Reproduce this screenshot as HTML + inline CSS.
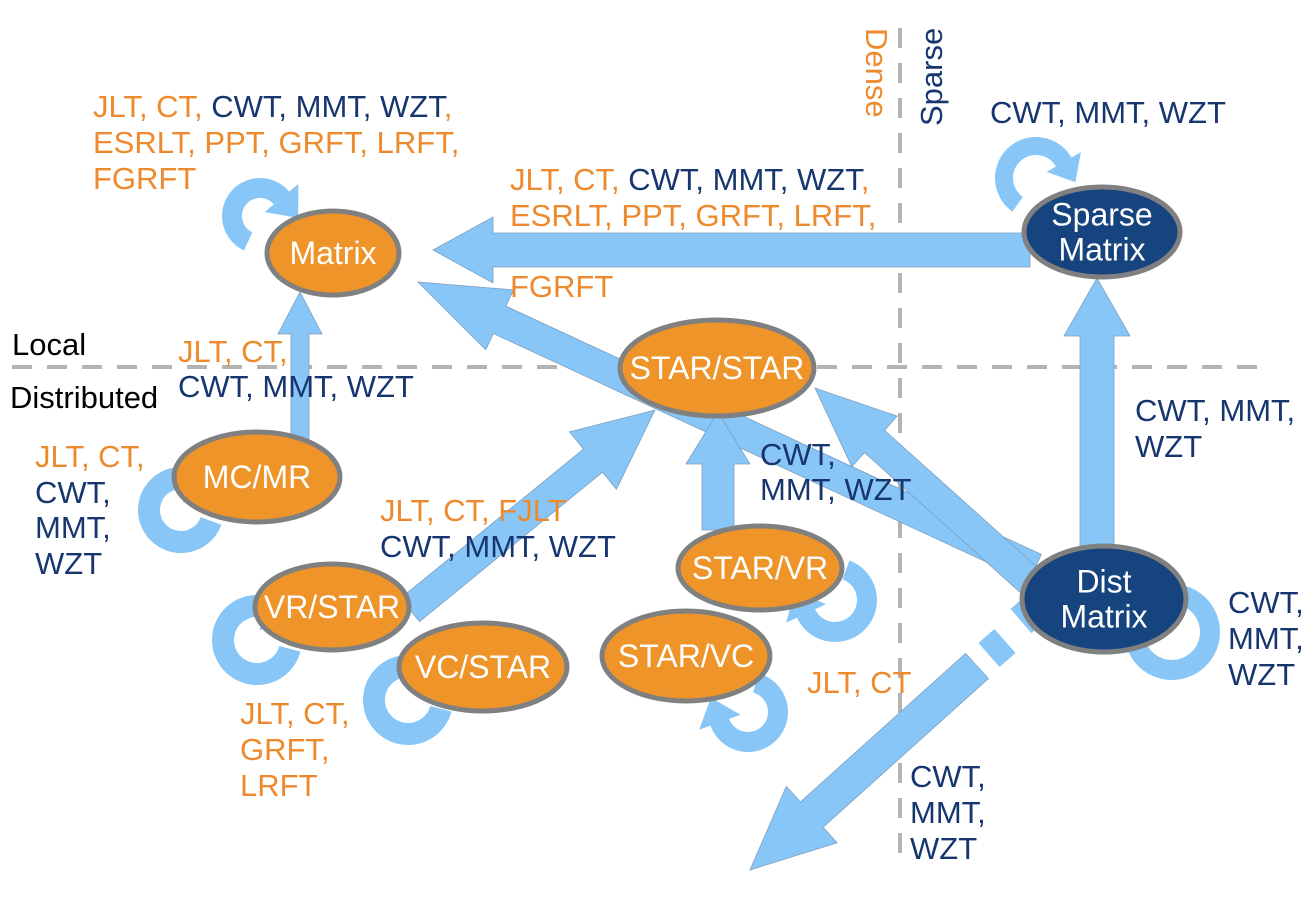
<!DOCTYPE html>
<html><head><meta charset="utf-8"><style>
body{margin:0;background:#fff;}
svg{display:block;font-family:"Liberation Sans",Arial,sans-serif;}
.o{fill:#EE8A2E;font-size:31px;}
.b{fill:#17366F;font-size:31px;}
.k{fill:#000;font-size:31px;}
.n{fill:#fff;font-size:32px;text-anchor:middle;}
</style></head><body>
<svg id="svg" width="1313" height="903" viewBox="0 0 1313 903" xmlns="http://www.w3.org/2000/svg">
<g id="dash">
<line x1="12" y1="367" x2="1272" y2="367" stroke="#b3b3b3" stroke-width="4" stroke-dasharray="20 15"/>
<line x1="900" y1="28" x2="900" y2="862" stroke="#b3b3b3" stroke-width="4" stroke-dasharray="20 15"/>
</g>
<g id="arrows"></g>
<g id="loops"></g>
<g id="nodes"></g>
<g>
<text class="o" transform="translate(866,28) rotate(90)">Dense</text>
<text class="b" transform="translate(942,126) rotate(-90)">Sparse</text>
<text class="k" x="12" y="355">Local</text>
<text class="k" x="10" y="408">Distributed</text>
<text font-size="31" x="93" y="117"><tspan class="o">JLT, CT, </tspan><tspan class="b">CWT, MMT, WZT</tspan><tspan class="o">,</tspan></text>
<text class="o" x="93" y="153">ESRLT, PPT, GRFT, LRFT,</text>
<text class="o" x="93" y="189">FGRFT</text>
<text font-size="31" x="510" y="190"><tspan class="o">JLT, CT, </tspan><tspan class="b">CWT, MMT, WZT</tspan><tspan class="o">,</tspan></text>
<text class="o" x="510" y="226">ESRLT, PPT, GRFT, LRFT,</text>
<text class="o" x="510" y="297">FGRFT</text>
<text class="b" x="990" y="123">CWT, MMT, WZT</text>
<text class="o" x="178" y="362">JLT, CT,</text>
<text class="b" x="178" y="397">CWT, MMT, WZT</text>
<text class="o" x="35" y="467">JLT, CT,</text>
<text class="b" x="35" y="503">CWT,</text>
<text class="b" x="35" y="538">MMT,</text>
<text class="b" x="35" y="574">WZT</text>
<text class="o" x="380" y="521">JLT, CT, FJLT</text>
<text class="b" x="380" y="557">CWT, MMT, WZT</text>
<text class="o" x="240" y="724">JLT, CT,</text>
<text class="o" x="240" y="760">GRFT,</text>
<text class="o" x="240" y="796">LRFT</text>
<text class="b" x="760" y="465">CWT,</text>
<text class="b" x="760" y="500">MMT, WZT</text>
<text class="b" x="1135" y="421">CWT, MMT,</text>
<text class="b" x="1135" y="457">WZT</text>
<text class="b" x="1228" y="613">CWT,</text>
<text class="b" x="1228" y="649">MMT,</text>
<text class="b" x="1228" y="685">WZT</text>
<text class="o" x="807" y="693">JLT, CT</text>
<text class="b" x="910" y="787">CWT,</text>
<text class="b" x="910" y="823">MMT,</text>
<text class="b" x="910" y="859">WZT</text>
</g>
<script>
var NS="http://www.w3.org/2000/svg";
var FILL="#87C6F6",EDGE="#7f9fbf";
function arrow(name,x1,y1,x2,y2,sw,hw,hl){
  var dx=x2-x1,dy=y2-y1,L=Math.hypot(dx,dy),ux=dx/L,uy=dy/L,px=-uy,py=ux;
  var bx=x2-ux*hl,by=y2-uy*hl;
  var p=[[x1+px*sw/2,y1+py*sw/2],[bx+px*sw/2,by+py*sw/2],[bx+px*hw/2,by+py*hw/2],[x2,y2],[bx-px*hw/2,by-py*hw/2],[bx-px*sw/2,by-py*sw/2],[x1-px*sw/2,y1-py*sw/2]];
  var el=document.createElementNS(NS,"polygon");
  el.setAttribute("points",p.map(function(q){return q[0].toFixed(1)+","+q[1].toFixed(1)}).join(" "));
  el.setAttribute("fill",FILL);el.setAttribute("stroke",EDGE);el.setAttribute("stroke-width","0.8");
  
  
  document.getElementById("arrows").appendChild(el);
}
arrow("arrow-dist-to-matrix",1035,568,418,282,30,66,90);
arrow("arrow-sparse-to-matrix",1030,250,433,250,34,66,60);
arrow("arrow-mcmr-to-matrix",300,445,300,292,18,44,42);
arrow("arrow-vrstar-to-starstar",410,610,655,410,30,74,80);
arrow("arrow-starvr-to-starstar",718,530,718,412,32,64,52);
arrow("arrow-dist-to-starstar",1040,590,815,388,30,68,80);
arrow("arrow-dist-to-sparse",1097,560,1097,278,34,66,58);
arrow("arrow-dist-out",977,666,750,870,34,76,83);
function seg(name,x1,y1,x2,y2){
  var el=document.createElementNS(NS,"line");
  el.setAttribute("x1",x1);el.setAttribute("y1",y1);el.setAttribute("x2",x2);el.setAttribute("y2",y2);
  el.setAttribute("stroke",FILL);el.setAttribute("stroke-width","32");
  
  
  document.getElementById("arrows").appendChild(el);
}
seg("ellipsis-dash-1",1005,641,989,655);
seg("ellipsis-dash-2",1036,608,1021,621);
function loop(name,cx,cy,r,w,a0,a1){
  var R=Math.PI/180,x0=cx+r*Math.cos(a0*R),y0=cy+r*Math.sin(a0*R),xe=cx+r*Math.cos(a1*R),ye=cy+r*Math.sin(a1*R);
  var large=Math.abs(a1-a0)>180?1:0,sweep=a1>a0?1:0;
  var g=document.createElementNS(NS,"g");
  
  
  var pa=document.createElementNS(NS,"path");
  pa.setAttribute("d","M"+x0+","+y0+" A"+r+","+r+" 0 "+large+" "+sweep+" "+xe+","+ye);
  pa.setAttribute("fill","none");pa.setAttribute("stroke",FILL);pa.setAttribute("stroke-width",w);
  
  
  g.appendChild(pa);
  var s=sweep?1:-1,tx=-Math.sin(a1*R)*s,ty=Math.cos(a1*R)*s,nx=Math.cos(a1*R),ny=Math.sin(a1*R),hw=w*1.1,hl=w*1.3;
  var tri=document.createElementNS(NS,"polygon");
  tri.setAttribute("points",[[xe+nx*hw,ye+ny*hw],[xe+tx*hl,ye+ty*hl],[xe-nx*hw,ye-ny*hw]].map(function(q){return q[0].toFixed(1)+","+q[1].toFixed(1)}).join(" "));
  tri.setAttribute("fill",FILL);
  
  
  g.appendChild(tri);
  document.getElementById("loops").appendChild(g);
}
loop("loop-matrix",260,216,28,20,115,320);
loop("loop-sparse",1036,178,32,18,125,330);
loop("loop-mcmr",181,510,32,22,20,285);
loop("loop-vrstar",257,640,34,22,15,285);
loop("loop-vcstar",408,700,34,22,15,285);
loop("loop-starvr",835,600,32,20,-70,155);
loop("loop-starvc",748,712,30,20,-75,160);
loop("loop-dist",1172,632,38,20,-75,160);
function node(name,cx,cy,rx,ry,fill,lines){
  var g=document.createElementNS(NS,"g");
  
  
  var e=document.createElementNS(NS,"ellipse");
  e.setAttribute("cx",cx);e.setAttribute("cy",cy);e.setAttribute("rx",rx);e.setAttribute("ry",ry);
  e.setAttribute("fill",fill);e.setAttribute("stroke","#808080");e.setAttribute("stroke-width","5");
  
  
  g.appendChild(e);
  lines.forEach(function(t,i){
    var tx=document.createElementNS(NS,"text");
    tx.setAttribute("x",cx);tx.setAttribute("y",cy+11+(i-(lines.length-1)/2)*35);
    tx.setAttribute("class","n");tx.textContent=t;
    
    
    g.appendChild(tx);
  });
  document.getElementById("nodes").appendChild(g);
}
var OR="#EE9429",NV="#16447F";
node("node-matrix",333,253,66,42,OR,["Matrix"]);
node("node-sparse-matrix",1102,232,78,45,NV,["Sparse","Matrix"]);
node("node-star-star",717,368,97,48,OR,["STAR/STAR"]);
node("node-mc-mr",257,477,83,45,OR,["MC/MR"]);
node("node-vr-star",332,607,77,43,OR,["VR/STAR"]);
node("node-vc-star",483,667,84,44,OR,["VC/STAR"]);
node("node-star-vr",760,568,82,42,OR,["STAR/VR"]);
node("node-star-vc",686,656,84,45,OR,["STAR/VC"]);
node("node-dist-matrix",1104,599,82,53,NV,["Dist","Matrix"]);
</script>
</svg>
</body></html>
